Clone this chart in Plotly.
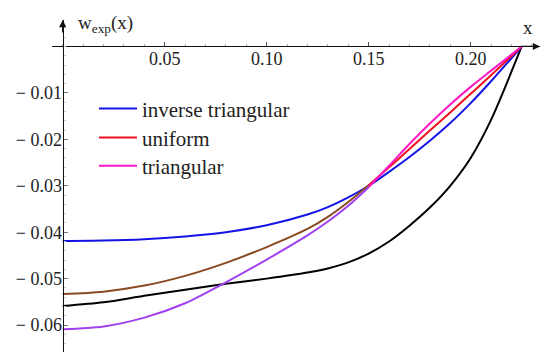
import plotly.graph_objects as go

# ---- data ----
x_vals = [0.0, 0.02, 0.04, 0.06, 0.08, 0.10, 0.12, 0.13, 0.14, 0.15,
          0.16, 0.17, 0.18, 0.19, 0.20, 0.21, 0.225]
w_inverse_triangular = [-0.0419, -0.0418, -0.0415, -0.0409, -0.0400, -0.0385, -0.0362, -0.0346, -0.0325, -0.0300,
                        -0.0270, -0.0238, -0.0203, -0.0165, -0.0122, -0.0075, 0.0]
w_uniform = [-0.0533, -0.0528, -0.0515, -0.0494, -0.0466, -0.0432, -0.0393, -0.0367, -0.0335, -0.0299,
             -0.0260, -0.0221, -0.0181, -0.0142, -0.0102, -0.0062, 0.0]
w_triangular = [-0.0609, -0.0603, -0.0584, -0.0553, -0.0508, -0.0459, -0.0407, -0.0377, -0.0343, -0.0303,
                -0.0257, -0.0210, -0.0166, -0.0125, -0.0087, -0.0052, 0.0]
w_experimental = [-0.0559, -0.0551, -0.0537, -0.0524, -0.0511, -0.0500, -0.0487, -0.0478, -0.0465, -0.0446,
                  -0.0420, -0.0386, -0.0347, -0.0300, -0.0240, -0.0158, 0.0]

x_tick_vals = [0.05, 0.10, 0.15, 0.20]
x_tick_text = ["0.05", "0.10", "0.15", "0.20"]
y_tick_vals = [-0.01, -0.02, -0.03, -0.04, -0.05, -0.06]
y_tick_text = ["\u2212 0.01", "\u2212 0.02", "\u2212 0.03",
               "\u2212 0.04", "\u2212 0.05", "\u2212 0.06"]

names = ["inverse triangular", "uniform", "triangular"]
split_x = 0.15  # colour of the rendered lines changes at the common crossing

# ---- layout constants ----
X_RANGE = [-0.00525, 0.234]
Y_RANGE = [-0.0658, 0.0057]
FONT = "Liberation Serif"

k = x_vals.index(split_x)
LINE = dict(width=2, shape="spline", smoothing=0.8)

fig = go.Figure()
fig.add_trace(go.Scatter(x=x_vals, y=w_experimental, mode="lines", showlegend=False,
                         line=dict(color="#000000", **LINE)))
fig.add_trace(go.Scatter(x=x_vals, y=w_inverse_triangular, mode="lines", name=names[0],
                         legend="legend", line=dict(color="#1414E6", **LINE)))
fig.add_trace(go.Scatter(x=x_vals[:k + 1], y=w_uniform[:k + 1], mode="lines", showlegend=False,
                         line=dict(color="#8A4A22", **LINE)))
fig.add_trace(go.Scatter(x=x_vals[k:], y=w_uniform[k:], mode="lines", name=names[1],
                         legend="legend2", line=dict(color="#F01020", **LINE)))
fig.add_trace(go.Scatter(x=x_vals[:k + 1], y=w_triangular[:k + 1], mode="lines", showlegend=False,
                         line=dict(color="#A040F0", **LINE)))
fig.add_trace(go.Scatter(x=x_vals[k:], y=w_triangular[k:], mode="lines", name=names[2],
                         legend="legend3", line=dict(color="#FF18C8", **LINE)))

xpos = (0 - Y_RANGE[0]) / (Y_RANGE[1] - Y_RANGE[0])
ypos = (0 - X_RANGE[0]) / (X_RANGE[1] - X_RANGE[0])

LEG = dict(x=0.086, xanchor="left", yanchor="top", bgcolor="rgba(0,0,0,0)", borderwidth=0,
           font=dict(family=FONT, size=21, color="#222222"), itemwidth=38)

fig.update_layout(
    width=550, height=360,
    margin=dict(l=44, r=18, t=12, b=16, autoexpand=False),
    paper_bgcolor="white", plot_bgcolor="white",
    font=dict(family=FONT, size=18, color="#222222"),
    xaxis=dict(range=X_RANGE, anchor="free", position=xpos, side="bottom", automargin=False,
               showline=True, linecolor="#111111", linewidth=1.3,
               showgrid=False, zeroline=False,
               tickmode="array", tickvals=x_tick_vals, ticktext=x_tick_text,
               ticks="inside", ticklen=4, tickcolor="#555555", tickwidth=1,
               ticklabelstandoff=-4,
               minor=dict(ticks="inside", dtick=0.01, tick0=0, ticklen=2.5, tickcolor="#aaaaaa"),
               tickfont=dict(family=FONT, size=18, color="#222222")),
    yaxis=dict(range=Y_RANGE, anchor="free", position=ypos, side="left", automargin=False,
               showline=True, linecolor="#111111", linewidth=1.3,
               showgrid=False, zeroline=False,
               tickmode="array", tickvals=y_tick_vals, ticktext=y_tick_text,
               ticks="inside", ticklen=4, tickcolor="#777777", tickwidth=1,
               ticklabelstandoff=-3,
               minor=dict(ticks="inside", dtick=0.002, tick0=0, ticklen=2, tickcolor="#cccccc"),
               tickfont=dict(family=FONT, size=18, color="#222222")),
    legend=dict(y=0.794, **LEG),
    legend2=dict(y=0.707, **LEG),
    legend3=dict(y=0.622, **LEG),
    showlegend=True,
)

# axis arrows
fig.add_annotation(x=X_RANGE[1], y=0, ax=X_RANGE[1] - 0.01, ay=0, axref="x", ayref="y",
                   xref="x", yref="y", text="", showarrow=True, arrowhead=2,
                   arrowsize=1.1, arrowwidth=1.3, arrowcolor="#111111")
fig.add_annotation(x=0, y=Y_RANGE[1], ax=0, ay=Y_RANGE[1] - 0.003, axref="x", ayref="y",
                   xref="x", yref="y", text="", showarrow=True, arrowhead=2,
                   arrowsize=1.1, arrowwidth=1.3, arrowcolor="#111111")
# axis labels
fig.add_annotation(x=0.0065, y=0.0049, xref="x", yref="y", xanchor="left", yanchor="middle",
                   text="w<sub>exp</sub>(x)", showarrow=False,
                   font=dict(family=FONT, size=19, color="#222222"))
fig.add_annotation(x=0.2280, y=0.0040, xref="x", yref="y", xanchor="center", yanchor="middle",
                   text="x", showarrow=False,
                   font=dict(family=FONT, size=19, color="#222222"))

fig.write_html("out.html")
